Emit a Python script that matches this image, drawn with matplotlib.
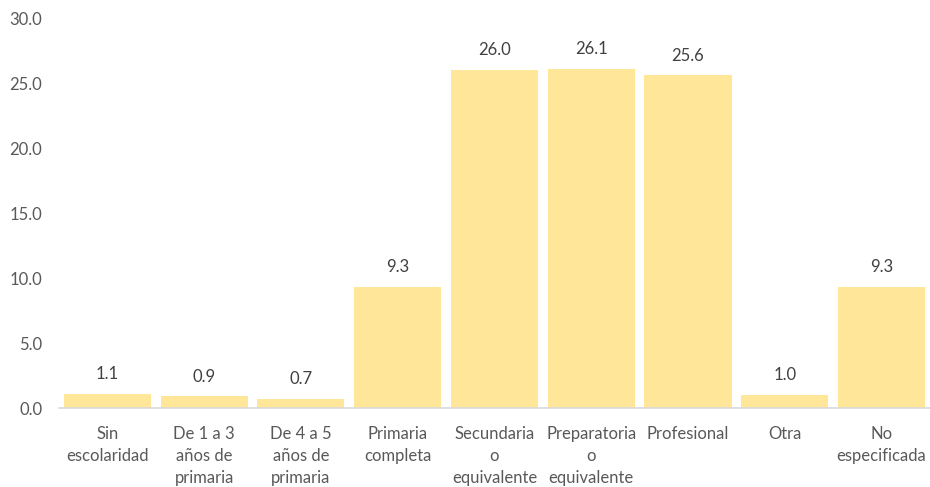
import matplotlib
matplotlib.use("Agg")
import matplotlib.pyplot as plt

categories = ["Sin\nescolaridad", "De 1 a 3\naños de\nprimaria", "De 4 a 5\naños de\nprimaria",
              "Primaria\ncompleta", "Secundaria\no\nequivalente", "Preparatoria\no\nequivalente",
              "Profesional", "Otra", "No\nespecificada"]
values = [1.1, 0.9, 0.7, 9.3, 26.0, 26.1, 25.6, 1.0, 9.3]
yticks = [0.0, 5.0, 10.0, 15.0, 20.0, 25.0, 30.0]

plt.rcParams['font.family'] = ['Lato', 'DejaVu Sans']
txt = '#595959'

fig = plt.figure(figsize=(9.3, 4.87), dpi=100)
ax = fig.add_axes([0.0634, 0.1622, 0.9366, 0.8008])
x = list(range(len(categories)))
bars = ax.bar(x, values, width=0.9, color='#FFE699')
for xi, v in zip(x, values):
    ax.text(xi, v + 0.9, f"{v:.1f}", ha='center', va='bottom', fontsize=12, color='#404040')

ax.set_xlim(-0.5, len(categories) - 0.5)
ax.set_ylim(0, 30)
ax.set_yticks(yticks)
ax.set_yticklabels([f"{t:.1f}" for t in yticks], fontsize=12, color=txt)
ax.set_xticks(x)
ax.set_xticklabels(categories, fontsize=12, color=txt, linespacing=1.45, va='top')
ax.tick_params(axis='both', length=0)
ax.tick_params(axis='x', pad=13)
ax.tick_params(axis='y', pad=12)
for s in ['top', 'right', 'left']:
    ax.spines[s].set_visible(False)
ax.spines['bottom'].set_color('#D9D9D9')
ax.spines['bottom'].set_linewidth(1.2)

fig.savefig('out.png', dpi=100)
